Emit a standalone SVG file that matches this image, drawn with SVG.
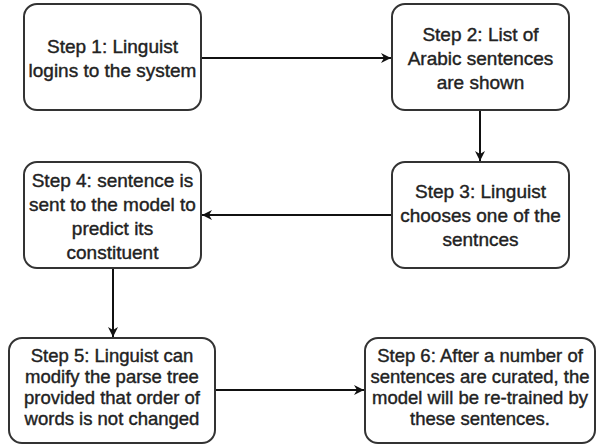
<svg xmlns="http://www.w3.org/2000/svg" width="596" height="445" viewBox="0 0 596 445">
<style>
.box{fill:#fff;stroke:#333;stroke-width:2}
.t{font-family:"Liberation Sans",Arial,sans-serif;font-size:19px;fill:#222;stroke:#222;stroke-width:0.4;text-anchor:middle}
.s{font-size:18.5px}
.c{fill:none;stroke:#111;stroke-width:2}
</style>
<defs>
<marker id="ah" viewBox="0 0 10 10" refX="10" refY="5" markerWidth="10" markerHeight="10" markerUnits="userSpaceOnUse" orient="auto">
<path d="M0,0 L10,5 L0,10 L3,5 Z" fill="#111"/>
</marker>
</defs>
<g id="connectors">
<line class="c" x1="201" y1="58" x2="391" y2="58" marker-end="url(#ah)"/>
<line class="c" x1="480" y1="110" x2="480" y2="161" marker-end="url(#ah)"/>
<line class="c" x1="392" y1="215" x2="202" y2="215" marker-end="url(#ah)"/>
<line class="c" x1="113" y1="268" x2="113" y2="337" marker-end="url(#ah)"/>
<line class="c" x1="215" y1="390" x2="364" y2="390" marker-end="url(#ah)"/>
</g>
<g id="step1">
<rect class="box" x="24" y="4" width="177" height="106" rx="13"/>
<text class="t" x="112.5" y="53">Step 1: Linguist</text>
<text class="t" x="112.5" y="77">logins to the system</text>
</g>
<g id="step2">
<rect class="box" x="392" y="4" width="177" height="106" rx="13"/>
<text class="t" x="480.5" y="41">Step 2: List of</text>
<text class="t" x="480.5" y="65">Arabic sentences</text>
<text class="t" x="480.5" y="89">are shown</text>
</g>
<g id="step3">
<rect class="box" x="392" y="162" width="177" height="106" rx="13"/>
<text class="t" x="480.5" y="198">Step 3: Linguist</text>
<text class="t" x="480.5" y="222">chooses one of the</text>
<text class="t" x="480.5" y="246">sentnces</text>
</g>
<g id="step4">
<rect class="box" x="24" y="162" width="177" height="106" rx="13"/>
<text class="t" x="112.5" y="187">Step 4: sentence is</text>
<text class="t" x="112.5" y="211">sent to the model to</text>
<text class="t" x="112.5" y="235">predict its</text>
<text class="t" x="112.5" y="259">constituent</text>
</g>
<g id="step5">
<rect class="box" x="9" y="338" width="206" height="105" rx="13"/>
<text class="t s" x="112" y="362">Step 5: Linguist can</text>
<text class="t s" x="112" y="383">modify the parse tree</text>
<text class="t s" x="112" y="404">provided that order of</text>
<text class="t s" x="112" y="425">words is not changed</text>
</g>
<g id="step6">
<rect class="box" x="365" y="338" width="230" height="105" rx="13"/>
<text class="t s" x="480" y="362">Step 6: After a number of</text>
<text class="t s" x="480" y="383">sentences are curated, the</text>
<text class="t s" x="480" y="404">model will be re-trained by</text>
<text class="t s" x="480" y="425">these sentences.</text>
</g>
</svg>
